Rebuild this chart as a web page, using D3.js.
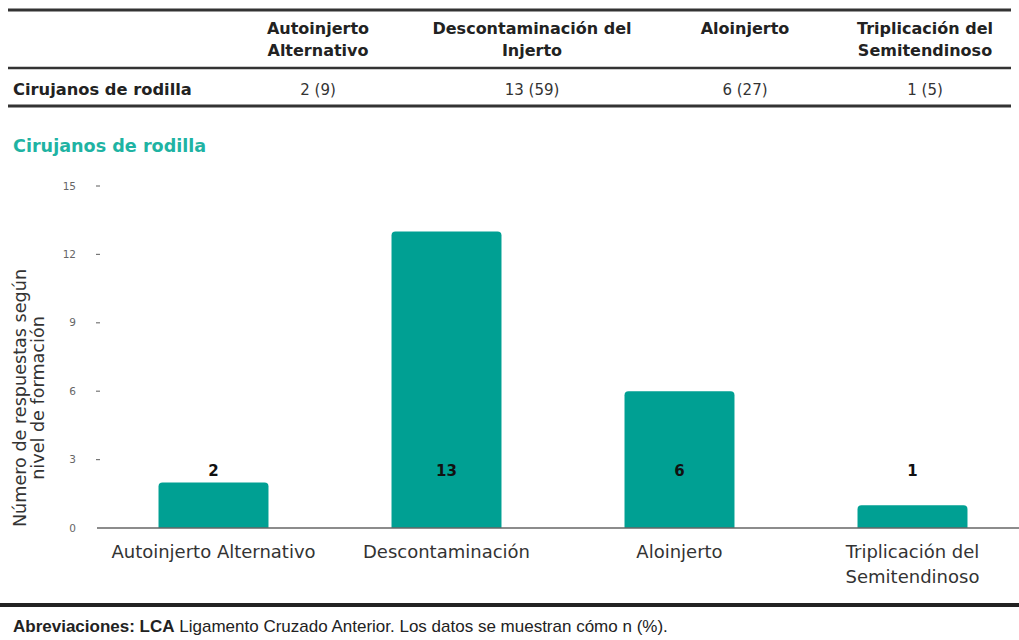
<!DOCTYPE html>
<html>
<head>
<meta charset="utf-8">
<script src="https://d3js.org/d3.v7.min.js"></script>
<style>
  body { margin: 0; background: #fff; }
  svg { display: block; font-family: "DejaVu Sans", "Liberation Sans", sans-serif; }
</style>
</head>
<body>
<script>
// data
var categories = ["Autoinjerto Alternativo", "Descontaminación", "Aloinjerto", "Triplicación del\nSemitendinoso"];
var tableHeaders = ["Autoinjerto\nAlternativo", "Descontaminación del\nInjerto", "Aloinjerto", "Triplicación del\nSemitendinoso"];
var counts = [2, 13, 6, 1];
var percents = [9, 59, 27, 5];
var rowLabel = "Cirujanos de rodilla";
var yTicks = [0, 3, 6, 9, 12, 15];

var W = 1019, H = 640;
var teal = "#00a093";

var svg = d3.select("body").append("svg")
    .attr("width", W)
    .attr("height", H);

// ---- table on top ----
var colX = d3.scaleOrdinal().domain(tableHeaders).range([318, 532, 745, 925]);

function hline(y, w) {
  svg.append("line")
    .attr("x1", 8).attr("x2", 1011)
    .attr("y1", y).attr("y2", y)
    .attr("stroke", "#333").attr("stroke-width", w);
}
hline(10, 3);
hline(68, 2.5);
hline(106, 3);

tableHeaders.forEach(function(h) {
  var t = svg.append("text")
    .attr("text-anchor", "middle")
    .attr("font-weight", "bold")
    .attr("font-size", 16)
    .attr("fill", "#222");
  h.split("\n").forEach(function(line, i) {
    t.append("tspan").attr("x", colX(h)).attr("y", 34 + i * 22).text(line);
  });
});

svg.append("text")
  .attr("x", 13).attr("y", 95)
  .attr("font-weight", "bold").attr("font-size", 16.3).attr("fill", "#222")
  .text(rowLabel);

tableHeaders.forEach(function(h, i) {
  svg.append("text")
    .attr("x", colX(h)).attr("y", 95)
    .attr("text-anchor", "middle")
    .attr("font-size", 15).attr("fill", "#333")
    .text(counts[i] + " (" + percents[i] + ")");
});

// ---- chart ----
svg.append("text")
  .attr("x", 13).attr("y", 152)
  .attr("font-weight", "bold").attr("font-size", 17.6).attr("fill", "#1fb3a3")
  .text(rowLabel);

var x = d3.scaleBand()
    .domain(categories)
    .range([97, 1029])
    .paddingInner(0.528)
    .paddingOuter(0.264);

var y = d3.scaleLinear().domain([0, 15]).range([528, 186]);

// y ticks: small dashes with grey numbers
var yAxis = svg.append("g");
yAxis.selectAll("text")
  .data(yTicks)
  .enter().append("text")
    .attr("x", 76)
    .attr("y", function(d) { return y(d); })
    .attr("dy", "0.35em")
    .attr("text-anchor", "end")
    .attr("font-size", 10.5)
    .attr("fill", "#666")
    .text(function(d) { return d; });
yAxis.selectAll("line")
  .data(yTicks.filter(function(d) { return d > 0; }))
  .enter().append("line")
    .attr("x1", 96).attr("x2", 100)
    .attr("y1", function(d) { return y(d); })
    .attr("y2", function(d) { return y(d); })
    .attr("stroke", "#777").attr("stroke-width", 1.2);

// y axis title
var yt = svg.append("text")
  .attr("transform", "translate(26," + 398 + ") rotate(-90)")
  .attr("text-anchor", "middle")
  .attr("font-size", 17.6)
  .attr("fill", "#333");
yt.append("tspan").attr("x", 0).attr("y", 0).text("Número de respuestas según");
yt.append("tspan").attr("x", 0).attr("y", 18).text("nivel de formación");

// bars with rounded top corners
function barPath(d, i) {
  var x0 = x(categories[i]), w = x.bandwidth();
  var y0 = y(d), yb = y(0), r = 4;
  return "M" + x0 + "," + yb +
    "V" + (y0 + r) +
    "Q" + x0 + "," + y0 + " " + (x0 + r) + "," + y0 +
    "H" + (x0 + w - r) +
    "Q" + (x0 + w) + "," + y0 + " " + (x0 + w) + "," + (y0 + r) +
    "V" + yb + "Z";
}
svg.selectAll(".bar")
  .data(counts)
  .enter().append("path")
    .attr("class", "bar")
    .attr("d", barPath)
    .attr("fill", teal);

// baseline
svg.append("line")
  .attr("x1", 97).attr("x2", W)
  .attr("y1", y(0)).attr("y2", y(0))
  .attr("stroke", "#666").attr("stroke-width", 1.5);

// value labels (all at the same height)
svg.selectAll(".val")
  .data(counts)
  .enter().append("text")
    .attr("class", "val")
    .attr("x", function(d, i) { return x(categories[i]) + x.bandwidth() / 2; })
    .attr("y", y(2.5))
    .attr("dy", "0.35em")
    .attr("text-anchor", "middle")
    .attr("font-weight", "bold")
    .attr("font-size", 15)
    .attr("fill", "#111")
    .text(function(d) { return d; });

// category labels
categories.forEach(function(c) {
  var t = svg.append("text")
    .attr("text-anchor", "middle")
    .attr("font-size", 18)
    .attr("fill", "#333");
  c.split("\n").forEach(function(line, i) {
    t.append("tspan")
      .attr("x", x(c) + x.bandwidth() / 2)
      .attr("y", 558 + i * 25)
      .text(line);
  });
});

// ---- footer ----
svg.append("line")
  .attr("x1", 0).attr("x2", W)
  .attr("y1", 605).attr("y2", 605)
  .attr("stroke", "#222").attr("stroke-width", 4);

var foot = svg.append("text")
  .attr("x", 13).attr("y", 632)
  .attr("font-size", 17)
  .attr("font-family", "'Liberation Sans', Arial, sans-serif")
  .attr("fill", "#222");
foot.append("tspan").attr("font-weight", "bold").text("Abreviaciones: LCA");
foot.append("tspan").text(" Ligamento Cruzado Anterior. Los datos se muestran cómo n (%).");
</script>
</body>
</html>
